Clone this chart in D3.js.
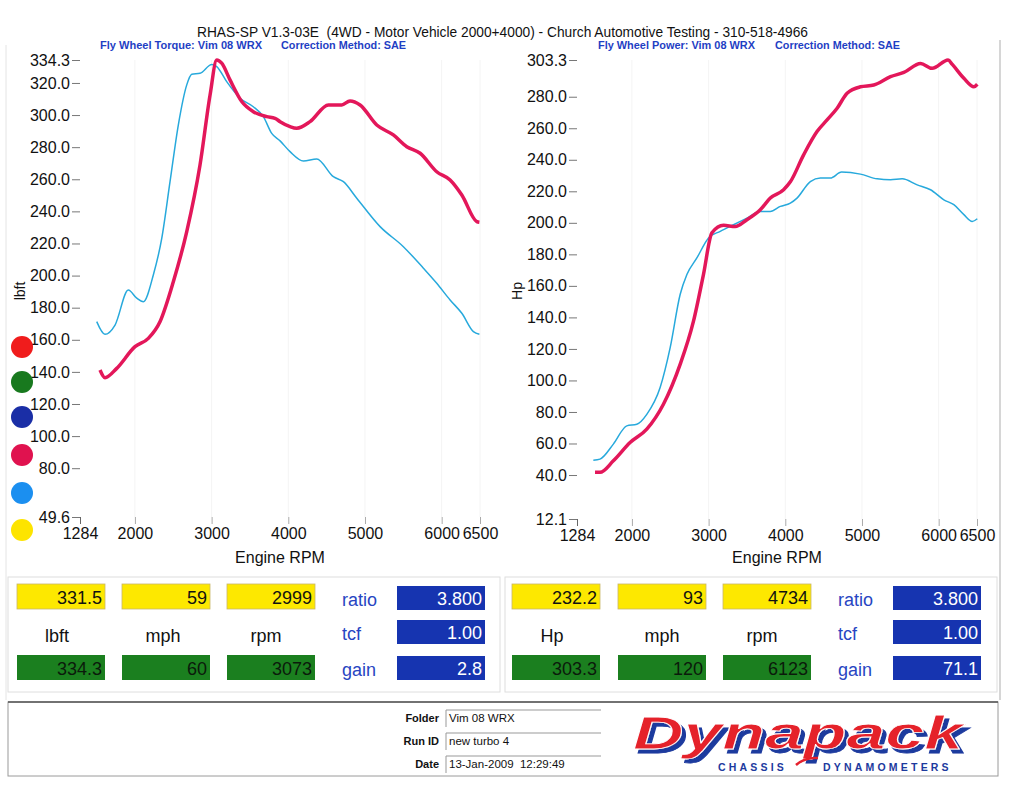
<!DOCTYPE html>
<html><head><meta charset="utf-8">
<script src="https://cdn.jsdelivr.net/npm/d3@7"></script>
<style>
html,body{margin:0;padding:0;background:#fff;}
svg{display:block;font-family:"Liberation Sans",Arial,sans-serif;}
text{white-space:pre;}
</style></head>
<body>
<svg id="c" width="1023" height="806">
<defs>
<filter id="shadow" x="-5%" y="-20%" width="115%" height="150%">
  <feFlood flood-color="#1d3a9e" result="f"/>
  <feComposite in="f" in2="SourceAlpha" operator="in" result="s"/>
  <feOffset in="s" dx="4" dy="4" result="o"/>
  <feMerge><feMergeNode in="o"/><feMergeNode in="SourceGraphic"/></feMerge>
</filter>
</defs>
</svg>
<script>
// ---------- DATA ----------
const rpmTicks = [1284, 2000, 3000, 4000, 5000, 6000, 6500];
const torqueTicks = [334.3, 320, 300, 280, 260, 240, 220, 200, 180, 160, 140, 120, 100, 80, 49.6];
const powerTicks = [303.3, 280, 260, 240, 220, 200, 180, 160, 140, 120, 100, 80, 60, 40, 12.1];

const torqueNewRpm = [1545,1610,1763,2001,2175,2327,2501,2676,2849,2980,3067,3132,3240,3393,3544,3719,3827,3893,4023,4110,4284,4523,4697,4805,4936,5154,5370,5545,5719,5936,6110,6263,6458,6492];
const torqueNew = [141.2,136.4,142.2,155.7,160.9,171.3,196.2,227.4,268.9,312.5,334.3,332.3,321.9,308.4,302.1,299.0,298.0,295.9,292.8,291.8,295.9,306.3,306.3,308.8,306.3,293.8,287.6,280.3,276.2,264.7,259.6,250.2,233.6,233.2];

const torqueBaseRpm = [1502,1610,1741,1914,2024,2110,2240,2350,2458,2566,2676,2741,2849,3002,3067,3197,3371,3544,3675,3784,3893,4023,4197,4371,4588,4719,4893,5197,5501,5762,5936,6110,6263,6414,6492];
const torqueBase = [171.3,163.4,169.2,191.0,185.9,183.7,200.4,223.2,258.5,293.8,318.8,325.4,326.0,331.5,330.2,320.8,310.5,305.2,299.0,288.6,283.9,277.2,271.4,272.7,261.6,258.5,248.2,230.5,218.0,204.6,195.2,184.8,176.5,165.1,163.4];

const powerNewRpm = [1519,1584,1758,1976,2194,2411,2629,2803,2933,3043,3195,3347,3500,3674,3805,3978,4066,4239,4414,4545,4676,4806,4980,5154,5372,5546,5764,5916,6123,6178,6329,6460,6504];
const powerNew = [41.7,41.7,49.0,60.6,69.1,84.9,110.2,137.6,167.2,193.6,198.4,197.7,202.0,208.3,215.7,221.0,226.0,243.1,257.9,265.3,272.7,282.2,286.3,287.4,292.7,295.4,301.1,298.0,303.3,300.5,291.7,286.3,287.9];

const powerBaseRpm = [1497,1584,1758,1933,2064,2194,2368,2499,2629,2717,2847,2999,3152,3325,3500,3674,3805,3935,4066,4153,4327,4458,4588,4734,4980,5198,5372,5525,5720,5894,6068,6198,6329,6438,6504];
const powerBase = [49.4,50.1,59.6,71.2,72.2,78.5,95.5,120.8,154.5,167.2,177.7,190.4,194.6,198.8,203.0,207.2,207.2,210.4,212.5,215.7,226.2,228.4,228.4,232.2,230.9,227.9,227.3,227.9,224.1,221.0,214.6,211.5,205.2,200.9,202.6];

const torqueBoxes = ["331.5", "59", "2999"];
const torqueUnits = ["lbft", "mph", "rpm"];
const torqueMax = ["334.3", "60", "3073"];
const torqueSide = ["3.800", "1.00", "2.8"];
const powerBoxes = ["232.2", "93", "4734"];
const powerUnits = ["Hp", "mph", "rpm"];
const powerMax = ["303.3", "120", "6123"];
const powerSide = ["3.800", "1.00", "71.1"];
const sideLabels = ["ratio", "tcf", "gain"];
const legendColors = ["#f01c1c", "#18791e", "#1a2ea6", "#e0124f", "#1b8ff0", "#fde400"];

const RED = "#e3175a", BLUE = "#27a9dc";
const svg = d3.select("#c");

// ---------- frame ----------
svg.append("line").attr("x1",6).attr("x2",6).attr("y1",45).attr("y2",700).attr("stroke","#e4e4e4");
svg.append("line").attr("x1",1000).attr("x2",1000).attr("y1",40).attr("y2",700).attr("stroke","#c8c8c8").attr("stroke-width",1.5);

// ---------- titles ----------
svg.append("text").attr("x",197).attr("y",37).attr("font-family","'Liberation Sans Narrow','Liberation Sans',Arial")
  .attr("font-size",15).attr("textLength",611).attr("lengthAdjust","spacingAndGlyphs").attr("fill","#111")
  .text("RHAS-SP V1.3-03E  (4WD - Motor Vehicle 2000+4000) - Church Automotive Testing - 310-518-4966");
function sub(x, w, t){
  svg.append("text").attr("x",x).attr("y",49).attr("font-size",10.5).attr("font-weight","bold")
    .attr("textLength",w).attr("lengthAdjust","spacingAndGlyphs").attr("fill","#1f3fc4").text(t);
}
sub(100,162,"Fly Wheel Torque: Vim 08 WRX"); sub(281,125,"Correction Method: SAE");
sub(598,157,"Fly Wheel Power: Vim 08 WRX"); sub(775,125,"Correction Method: SAE");

// ---------- chart builder ----------
function chart(opts){
  const x = d3.scaleLinear().domain([1284,6500]).range([opts.x0, opts.x1]);
  const y = d3.scaleLinear().domain([opts.ymin, opts.ymax]).range([opts.yb, 60]);
  const g = svg.append("g");
  g.selectAll("line.grid").data(rpmTicks.slice(1)).join("line")
    .attr("x1",d=>x(d)).attr("x2",d=>x(d)).attr("y1",60).attr("y2",opts.yb)
    .attr("stroke","#f4f4f4").attr("stroke-width",1);
  const ya = g.append("g").attr("transform",`translate(${opts.x0},0)`)
    .call(d3.axisLeft(y).tickValues(opts.yticks).tickFormat(d3.format(".1f")).tickSize(8).tickPadding(2));
  ya.select(".domain").remove();
  ya.selectAll("text").attr("font-size",16).attr("fill","#111").attr("font-family","'Liberation Sans',Arial");
  ya.selectAll(".tick line").attr("stroke","#777");
  const xa = g.append("g").attr("transform",`translate(0,${opts.yb})`)
    .call(d3.axisBottom(x).tickValues(rpmTicks).tickFormat(d3.format("d")).tickSize(7).tickPadding(4));
  xa.select(".domain").remove();
  xa.selectAll("text").attr("font-size",16).attr("fill","#111").attr("font-family","'Liberation Sans',Arial");
  xa.selectAll(".tick line").attr("stroke","#aaa");
  xa.selectAll(".tick").filter(d=>d===1284).select("line").attr("stroke","#666");
  g.append("text").attr("x",(opts.x0+opts.x1)/2).attr("y",563).attr("text-anchor","middle")
    .attr("font-size",16).attr("fill","#111").text("Engine RPM");
  g.append("text").attr("transform",`translate(${opts.ylx},291) rotate(-90)`).attr("text-anchor","middle")
    .attr("font-size",14).attr("fill","#111").text(opts.ylabel);
  const line = d3.line().x(d=>x(d[0])).y(d=>y(d[1])).curve(d3.curveMonotoneX);
  g.append("path").datum(d3.zip(opts.baseRpm, opts.base)).attr("d",line)
    .attr("fill","none").attr("stroke",BLUE).attr("stroke-width",1.5);
  g.append("path").datum(d3.zip(opts.newRpm, opts.nw)).attr("d",line)
    .attr("fill","none").attr("stroke",RED).attr("stroke-width",3.5).attr("stroke-linejoin","round");
}
chart({x0:80,x1:480,yb:517,ymin:49.6,ymax:334.3,yticks:torqueTicks,ylabel:"lbft",ylx:25,
  baseRpm:torqueBaseRpm,base:torqueBase,newRpm:torqueNewRpm,nw:torqueNew});
chart({x0:577,x1:977,yb:519,ymin:12.1,ymax:303.3,yticks:powerTicks,ylabel:"Hp",ylx:522,
  baseRpm:powerBaseRpm,base:powerBase,newRpm:powerNewRpm,nw:powerNew});

// legend dots
const dotY = [347, 382, 417, 455, 493, 530];
svg.selectAll("circle.dot").data(legendColors).join("circle")
  .attr("cx",22).attr("cy",(d,i)=>dotY[i]).attr("r",11).attr("fill",d=>d);

// ---------- bottom panels ----------
function panel(px, vals, units, maxes, side, opts){
  svg.append("rect").attr("x",px).attr("y",577).attr("width",492).attr("height",115)
    .attr("fill","none").attr("stroke","#dedede");
  const bx = opts.bx, bw = 88;
  bx.forEach((bxv,i)=>{
    svg.append("rect").attr("x",px+bxv).attr("y",584).attr("width",bw).attr("height",25).attr("fill","#fde800")
      .attr("stroke","#c9b66a").attr("stroke-width",0.8);
    svg.append("text").attr("x",px+bxv+bw-3).attr("y",604).attr("text-anchor","end").attr("font-size",18).attr("fill","#111").text(vals[i]);
    svg.append("text").attr("x",px+opts.ux[i]).attr("y",642).attr("text-anchor","middle").attr("font-size",18).attr("fill","#111").text(units[i]);
    svg.append("rect").attr("x",px+bxv).attr("y",655).attr("width",bw).attr("height",25).attr("fill","#1b7f1f");
    svg.append("text").attr("x",px+bxv+bw-3).attr("y",675).attr("text-anchor","end").attr("font-size",18).attr("fill","#0b1a0b").text(maxes[i]);
  });
  const sy = [586, 620, 656];
  side.forEach((v,i)=>{
    svg.append("text").attr("x",px+opts.lx).attr("y",sy[i]+20).attr("font-size",18).attr("fill","#2745c2").text(sideLabels[i]);
    svg.append("rect").attr("x",px+opts.sx).attr("y",sy[i]).attr("width",88).attr("height",24).attr("fill","#1634b0");
    svg.append("text").attr("x",px+opts.sx+85).attr("y",sy[i]+19).attr("text-anchor","end").attr("font-size",18).attr("fill","#fff").text(v);
  });
}
panel(8, torqueBoxes, torqueUnits, torqueMax, torqueSide, {bx:[9,114,219], ux:[49,155,258], lx:334, sx:389});
panel(505, powerBoxes, powerUnits, powerMax, powerSide, {bx:[7,113,218], ux:[47,157,257], lx:333, sx:388});

// ---------- footer ----------
svg.append("rect").attr("x",8).attr("y",702).attr("width",990).attr("height",74).attr("fill","none").attr("stroke","#9a9a9a");
svg.append("line").attr("x1",8).attr("x2",998).attr("y1",702).attr("y2",702).attr("stroke","#555").attr("stroke-width",1.5);
const fLabels = ["Folder","Run ID","Date"], fVals = ["Vim 08 WRX","new turbo 4","13-Jan-2009  12:29:49"];
fLabels.forEach((l,i)=>{
  const yy = 722 + i*23;
  svg.append("text").attr("x",439).attr("y",yy).attr("text-anchor","end").attr("font-size",11).attr("font-weight","bold")
    .attr("font-family","'Liberation Sans Narrow','Liberation Sans',Arial").attr("fill","#111").text(l);
  svg.append("path").attr("d",`M446,${yy+5}V${yy-12}H601`).attr("fill","none").attr("stroke","#999");
  svg.append("text").attr("x",449).attr("y",yy).attr("font-size",11.5)
    .attr("font-family","'Liberation Sans Narrow','Liberation Sans',Arial").attr("fill","#111").text(fVals[i]);
});
// logo
const logo = svg.append("g");
logo.append("text").attr("x",633).attr("y",749).attr("font-size",46).attr("font-weight","bold").attr("font-style","italic")
  .attr("textLength",330).attr("lengthAdjust","spacingAndGlyphs").attr("fill","#e5202c")
  .attr("stroke","#fff").attr("stroke-width",0.8).attr("filter","url(#shadow)").text("Dynapack");
logo.append("text").attr("x",718).attr("y",771).attr("font-size",10.5).attr("font-weight","bold").attr("letter-spacing",3.2)
  .attr("fill","#1d3a9e").text("CHASSIS");
logo.append("text").attr("x",823).attr("y",771).attr("font-size",10.5).attr("font-weight","bold").attr("letter-spacing",3.2)
  .attr("fill","#1d3a9e").text("DYNAMOMETERS");
logo.append("path").attr("d","M796,765 Q805,757 818,758").attr("fill","none").attr("stroke","#e5202c").attr("stroke-width",2.5);
</script>
</body></html>
